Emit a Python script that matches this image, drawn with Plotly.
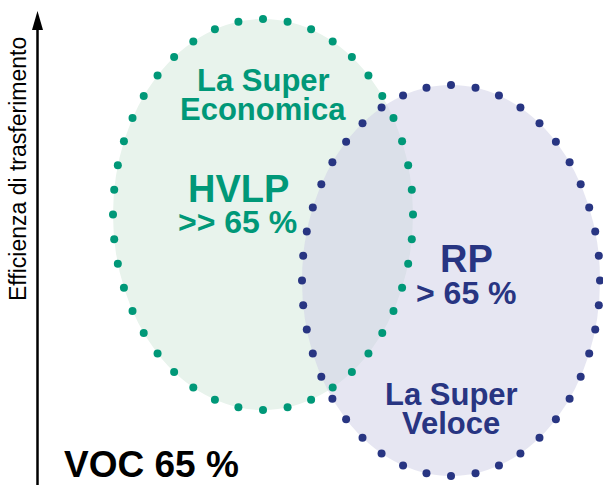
import numpy as np
import plotly.graph_objects as go

# ---- data ----
set_names = ["La Super<br>Economica", "La Super<br>Veloce"]
set_methods = ["HVLP", "RP"]
set_efficiency = [">> 65 %", "> 65 %"]
y_axis_label = "Efficienza di trasferimento"
baseline_label = "VOC 65 %"

# ---- geometry (pixel-like data coordinates) ----
W, H = 603, 485
ellipses = [
    dict(cx=263, cy=214.5, rx=150, ry=195.5, fill="#e8f3ec", opacity=1.0, dot="#009878", n=44),
    dict(cx=451, cy=280.5, rx=149, ry=195.5, fill="rgb(205,205,229)", opacity=0.5, dot="#283582", n=44),
]

def ellipse_dots(cx, cy, rx, ry, n):
    t = np.linspace(0, 2 * np.pi, 4001)
    x = cx + rx * np.sin(t)
    y = cy - ry * np.cos(t)
    seg = np.hypot(np.diff(x), np.diff(y))
    s = np.concatenate([[0], np.cumsum(seg)])
    targets = np.linspace(0, s[-1], n + 1)[:-1]
    return np.interp(targets, s, x), np.interp(targets, s, y)

fig = go.Figure()
shapes = []
for e in ellipses:
    shapes.append(dict(type="circle", xref="x", yref="y",
                       x0=e["cx"] - e["rx"], x1=e["cx"] + e["rx"],
                       y0=e["cy"] - e["ry"], y1=e["cy"] + e["ry"],
                       fillcolor=e["fill"], opacity=e["opacity"],
                       line=dict(width=0), layer="below"))
for e in ellipses:
    dx, dy = ellipse_dots(e["cx"], e["cy"], e["rx"], e["ry"], e["n"])
    fig.add_trace(go.Scatter(x=dx, y=dy, mode="markers",
                             marker=dict(size=8, color=e["dot"], line=dict(width=0)),
                             hoverinfo="skip", showlegend=False))

# axis arrow
shapes.append(dict(type="line", xref="x", yref="y", x0=37.5, x1=37.5, y0=25, y1=H,
                   line=dict(color="black", width=2.5)))
shapes.append(dict(type="path", xref="x", yref="y",
                   path="M 32,30 L 37.5,11 L 43,30 Z",
                   fillcolor="black", line=dict(width=0)))

bold = "Liberation Sans"
green = ellipses[0]["dot"]
blue = ellipses[1]["dot"]
ann = []
def txt(x, y, s, size, color, fam=bold, bolden=True, **kw):
    ann.append(dict(x=x, y=y, xref="x", yref="y", text=(f"<b>{s}</b>" if bolden else s),
                    showarrow=False, font=dict(family=fam, size=size, color=color),
                    xanchor="center", yanchor="middle", **kw))

g1, g2 = set_names[0].split("<br>")
b1, b2 = set_names[1].split("<br>")
txt(263, 80, g1, 31, green)
txt(263, 109, g2, 31, green)
txt(238, 189, set_methods[0], 38, green)
txt(237, 222, set_efficiency[0], 32, green)
txt(466, 259, set_methods[1], 38, blue)
txt(466, 293, set_efficiency[1], 32, blue)
txt(451, 394, b1, 31, blue)
txt(451, 423, b2, 31, blue)
ann.append(dict(x=62, y=464, xref="x", yref="y", text=f"<b>{baseline_label}</b>",
                showarrow=False, font=dict(family=bold, size=37, color="black"),
                xanchor="left", yanchor="middle"))
ann.append(dict(x=18, y=169, xref="x", yref="y", text=y_axis_label, textangle=-90,
                showarrow=False, font=dict(family="Liberation Sans", size=23, color="black"),
                xanchor="center", yanchor="middle"))

fig.update_layout(
    width=W, height=H, margin=dict(l=0, r=0, t=0, b=0),
    paper_bgcolor="white", plot_bgcolor="white",
    xaxis=dict(range=[0, W], visible=False, fixedrange=True),
    yaxis=dict(range=[H, 0], visible=False, fixedrange=True),
    shapes=shapes, annotations=ann, showlegend=False,
)
fig.write_html("out.html", config={"displayModeBar": False},
               post_script="document.body.style.margin='0';document.body.style.overflow='hidden';")
